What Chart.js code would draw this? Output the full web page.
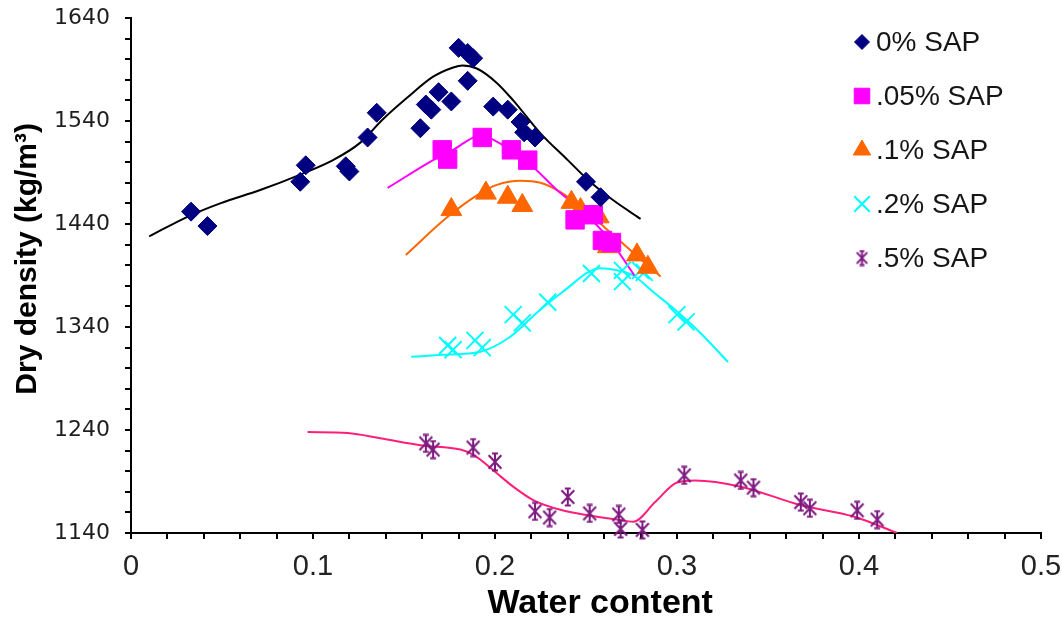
<!DOCTYPE html>
<html>
<head>
<meta charset="utf-8">
<script src="https://cdn.jsdelivr.net/npm/chart.js@4/dist/chart.umd.min.js"></script>
<style>
  body { margin: 0; background: #fff; }
  #wrap { width: 1062px; height: 624px; }
</style>
</head>
<body>
<div id="wrap"><canvas id="densityChart" width="1062" height="624"></canvas></div>
<script>
// measured points, water content vs dry density
const sap0X = [0.033, 0.042, 0.093, 0.096, 0.118, 0.120, 0.130, 0.135, 0.159, 0.162, 0.165, 0.169, 0.176, 0.180, 0.185, 0.188, 0.185, 0.199, 0.207, 0.214, 0.216, 0.222, 0.250, 0.258];
const sap0Y = [1452, 1438, 1481, 1497, 1496, 1491, 1524, 1548, 1533, 1556, 1551, 1568, 1559, 1611, 1606, 1601, 1579, 1554, 1551, 1539, 1529, 1524, 1481, 1466];

const sap005X = [0.171, 0.174, 0.193, 0.209, 0.218, 0.244, 0.254, 0.259, 0.264];
const sap005Y = [1512, 1503, 1524, 1512, 1502, 1444, 1449, 1424, 1422];

const sap01X = [0.176, 0.195, 0.207, 0.215, 0.242, 0.247, 0.257, 0.262, 0.278, 0.284];
const sap01Y = [1454, 1470, 1466, 1458, 1461, 1454, 1447, 1418, 1410, 1398];

const sap02X = [0.174, 0.177, 0.189, 0.193, 0.210, 0.215, 0.229, 0.253, 0.270, 0.270, 0.280, 0.282, 0.300, 0.305];
const sap02Y = [1322, 1318, 1327, 1320, 1352, 1344, 1364, 1392, 1384, 1395, 1395, 1393, 1352, 1345];

const sap05X = [0.162, 0.166, 0.188, 0.200, 0.222, 0.230, 0.240, 0.252, 0.268, 0.269, 0.281, 0.304, 0.335, 0.342, 0.368, 0.373, 0.399, 0.410];
const sap05Y = [1227, 1221, 1223, 1209, 1161, 1155, 1175, 1159, 1158, 1144, 1143, 1196, 1191, 1184, 1170, 1164, 1162, 1153];

// fitted trend curves
const fit0X = [0.010, 0.031, 0.049, 0.071, 0.093, 0.111, 0.126, 0.138, 0.152, 0.166, 0.177, 0.182, 0.190, 0.201, 0.210, 0.225, 0.240, 0.251, 0.265, 0.280];
const fit0Y = [1428, 1447, 1460, 1473, 1488, 1502, 1519, 1541, 1563, 1583, 1592, 1594, 1591, 1577, 1560, 1528, 1502, 1483, 1463, 1445];

const fit005X = [0.141, 0.166, 0.177, 0.192, 0.199, 0.221, 0.234, 0.247, 0.262, 0.277];
const fit005Y = [1475, 1502, 1512, 1526, 1522, 1495, 1473, 1454, 1427, 1389];

const fit01X = [0.151, 0.174, 0.192, 0.201, 0.214, 0.225, 0.236, 0.247, 0.262, 0.276, 0.291];
const fit01Y = [1410, 1447, 1470, 1478, 1482, 1480, 1471, 1457, 1434, 1412, 1389];

const fit02X = [0.154, 0.171, 0.192, 0.208, 0.225, 0.240, 0.251, 0.258, 0.267, 0.276, 0.287, 0.300, 0.313, 0.328];
const fit02Y = [1311, 1313, 1316, 1330, 1357, 1378, 1393, 1397, 1395, 1390, 1374, 1355, 1334, 1306];

const fit05X = [0.097, 0.119, 0.137, 0.160, 0.181, 0.188, 0.199, 0.210, 0.221, 0.237, 0.252, 0.267, 0.276, 0.288, 0.300, 0.310, 0.335, 0.368, 0.397, 0.421];
const fit05Y = [1238, 1237, 1232, 1225, 1221, 1216, 1201, 1185, 1172, 1162, 1157, 1153, 1151, 1170, 1189, 1191, 1185, 1167, 1156, 1140];

const seriesLabels = ['0% SAP', '.05% SAP', '.1% SAP', '.2% SAP', '.5% SAP'];

function toPoints(xs, ys) {
    return xs.map((x, i) => ({ x: x, y: ys[i] }));
}

// asterisk marker for the .5% series
function makeAsterisk(size, color) {
    const c = document.createElement('canvas');
    c.width = size;
    c.height = size;
    const g = c.getContext('2d');
    const m = size / 2;
    const r = size / 2 - 1.5;
    g.strokeStyle = color;
    g.lineWidth = 2;
    g.beginPath();
    g.moveTo(m, m - r); g.lineTo(m, m + r);
    g.moveTo(m - r * 0.75, m - r * 0.8); g.lineTo(m + r * 0.75, m + r * 0.8);
    g.moveTo(m + r * 0.75, m - r * 0.8); g.lineTo(m - r * 0.75, m + r * 0.8);
    g.moveTo(m - r * 0.35, m - r); g.lineTo(m + r * 0.35, m - r);
    g.moveTo(m - r * 0.35, m + r); g.lineTo(m + r * 0.35, m + r);
    g.stroke();
    return c;
}

const purple = '#7d1a80';
const asteriskBig = makeAsterisk(20, purple);
const asteriskSmall = makeAsterisk(17, purple);

const markerDatasets = [
    { label: seriesLabels[0], data: toPoints(sap0X, sap0Y), pointStyle: 'rectRot', pointRadius: 9.5, backgroundColor: '#000080', borderColor: '#000080', borderWidth: 1, legendRadius: 7.5 },
    { label: seriesLabels[1], data: toPoints(sap005X, sap005Y), pointStyle: 'rect', pointRadius: 13, backgroundColor: '#ff00ff', borderColor: '#ff00ff', borderWidth: 1, legendRadius: 11 },
    { label: seriesLabels[2], data: toPoints(sap01X, sap01Y), pointStyle: 'triangle', pointRadius: 12, backgroundColor: '#ff6600', borderColor: '#ff6600', borderWidth: 1, legendRadius: 10 },
    { label: seriesLabels[3], data: toPoints(sap02X, sap02Y), pointStyle: 'crossRot', pointRadius: 12, backgroundColor: '#00ffff', borderColor: '#00ffff', borderWidth: 2, legendRadius: 11 },
    { label: seriesLabels[4], data: toPoints(sap05X, sap05Y), pointStyle: asteriskBig, pointRadius: 10, backgroundColor: purple, borderColor: purple, borderWidth: 2, legendStyle: asteriskSmall, legendRadius: 8 }
].map(d => Object.assign(d, { type: 'scatter', showLine: false, clip: false, order: 0, isMarker: true }));

const fitDatasets = [
    { data: toPoints(fit0X, fit0Y), borderColor: '#000000' },
    { data: toPoints(fit005X, fit005Y), borderColor: '#ff00ff' },
    { data: toPoints(fit01X, fit01Y), borderColor: '#ff6600' },
    { data: toPoints(fit02X, fit02Y), borderColor: '#00ffff' },
    { data: toPoints(fit05X, fit05Y), borderColor: '#ff1f78' }
].map(d => Object.assign(d, { type: 'scatter', label: '', showLine: true, pointRadius: 0, borderWidth: 2, tension: 0.35, cubicInterpolationMode: 'monotone', fill: false, order: 1 }));

// legend drawn inside the plot, top right
const insideLegend = {
    id: 'insideLegend',
    afterDraw(chart) {
        const ctx = chart.ctx;
        const x0 = 862, textX = 876, y0 = 42, step = 54;
        ctx.save();
        chart.data.datasets.filter(d => d.isMarker).forEach((d, i) => {
            const y = y0 + i * step;
            ctx.fillStyle = d.backgroundColor;
            ctx.strokeStyle = d.borderColor;
            ctx.lineWidth = d.borderWidth;
            Chart.helpers.drawPoint(ctx, { pointStyle: d.legendStyle || d.pointStyle, radius: d.legendRadius, borderWidth: d.borderWidth, rotation: 0 }, x0, y);
            ctx.fillStyle = '#161616';
            ctx.font = '28px "Liberation Sans", Arial, sans-serif';
            ctx.textBaseline = 'middle';
            ctx.textAlign = 'left';
            ctx.fillText(d.label, textX, y + 1);
        });
        ctx.restore();
    }
};

const densityCtx = document.getElementById('densityChart').getContext('2d');
const densityChart = new Chart(densityCtx, {
    data: { datasets: markerDatasets.concat(fitDatasets) },
    options: {
        responsive: false,
        animation: false,
        events: [],
        layout: { padding: { top: 18, right: 21, bottom: 0, left: 0 } },
        plugins: { legend: { display: false }, tooltip: { enabled: false } },
        scales: {
            x: {
                type: 'linear',
                min: 0,
                max: 0.5,
                afterFit: (scale) => { scale.height = 91; },
                border: { display: true, color: '#000', width: 2 },
                grid: { drawOnChartArea: false, drawTicks: true, tickLength: 6, color: '#000', lineWidth: 2 },
                ticks: {
                    stepSize: 0.02,
                    autoSkip: false,
                    maxTicksLimit: 100,
                    maxRotation: 0,
                    padding: 0,
                    color: '#222',
                    font: { family: '"Liberation Sans", Arial, sans-serif', size: 29, lineHeight: 1.9 },
                    callback: (v) => {
                        const t = v * 10;
                        return Math.abs(t - Math.round(t)) < 1e-6 ? String(Math.round(t) / 10) : '';
                    }
                },
                title: {
                    display: true,
                    text: '   Water content',
                    color: '#000',
                    padding: { top: 0, bottom: 0 },
                    font: { family: '"Liberation Sans", Arial, sans-serif', size: 34, weight: 'bold' }
                }
            },
            y: {
                type: 'linear',
                min: 1140,
                max: 1640,
                afterFit: (scale) => { scale.width = 131; },
                border: { display: true, color: '#000', width: 2 },
                grid: { drawOnChartArea: false, drawTicks: true, tickLength: 6, color: '#000', lineWidth: 2 },
                ticks: {
                    stepSize: 20,
                    autoSkip: false,
                    maxTicksLimit: 100,
                    padding: 15,
                    color: '#1e1e1e',
                    font: { family: '"DejaVu Sans", sans-serif', size: 22, lineHeight: 0.2 },
                    callback: (v) => ((v - 1140) % 100 === 0 ? String(v) : '')
                },
                title: {
                    display: true,
                    text: '    Dry density (kg/m³)',
                    color: '#000',
                    padding: { top: 10, bottom: 0 },
                    font: { family: '"Liberation Sans", Arial, sans-serif', size: 30, weight: 'bold' }
                }
            }
        }
    },
    plugins: [insideLegend]
});
</script>
</body>
</html>
